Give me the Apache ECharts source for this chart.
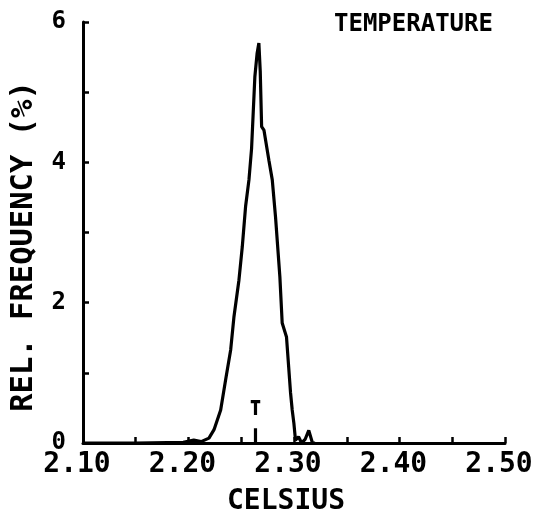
<!DOCTYPE html>
<html>
<head>
<meta charset="utf-8">
<script src="https://cdn.jsdelivr.net/npm/echarts@6/dist/echarts.min.js"></script>
<style>
html,body{margin:0;padding:0;background:#fff;}
#chart{width:539px;height:516px;}
</style>
</head>
<body>
<div id="chart"></div>
<script>
// ---- data ----
const chartTitle = 'TEMPERATURE';
const xAxisName = 'CELSIUS';
const yAxisName = 'REL. FREQUENCY (%)';
const xTickLabels = ['2.10', '2.20', '2.30', '2.40', '2.50'];
const yTickLabels = ['0', '2', '4', '6'];

// temperature (Celsius) and relative frequency (%)
const celsius = [2.10, 2.15, 2.195, 2.205, 2.212, 2.2194, 2.2242, 2.2305, 2.2352, 2.2400, 2.2431,
  2.2478, 2.2510, 2.2541, 2.2573, 2.2598, 2.2629, 2.2650, 2.2667, 2.2680, 2.2693, 2.2715,
  2.2762, 2.2794, 2.2825, 2.2866, 2.2888, 2.2929, 2.2967, 2.2983, 2.2999, 2.3014, 2.3043,
  2.3072, 2.3105, 2.3140, 2.3175, 2.32];
const relFreq = [0, 0, 0.01, 0.04, 0.02, 0.07, 0.19, 0.47, 0.90, 1.33, 1.80,
  2.32, 2.80, 3.37, 3.75, 4.20, 5.22, 5.55, 5.70, 5.30, 4.51, 4.46,
  4.03, 3.75, 3.22, 2.37, 1.71, 1.51, 0.72, 0.47, 0.28, 0.04, 0.09,
  0.0, 0.05, 0.18, 0.0, 0];

// mean marker
const meanTemp = 2.2635;
const meanLower = [0, 0.21];
const meanUpper = [0.40, 0.59];
const meanBarHalfWidth = 0.0045;

const FONT = '"DejaVu Sans Mono", monospace';
const curveData = celsius.map((c, i) => [c, relFreq[i]]);
const markerData = [
  [meanTemp, meanLower[0]], [meanTemp, meanLower[1]], '-',
  [meanTemp, meanUpper[0]], [meanTemp, meanUpper[1]], '-',
  [meanTemp - meanBarHalfWidth, meanUpper[1]], [meanTemp + meanBarHalfWidth, meanUpper[1]]
];

const chart = echarts.init(document.getElementById('chart'));
chart.setOption({
  backgroundColor: '#fff',
  animation: false,
  title: {
    text: chartTitle,
    left: 329, top: 8,
    textStyle: {fontFamily: FONT, fontWeight: 'bold', fontSize: 24, color: '#000'}
  },
  grid: {left: 83, right: 34, top: 22, bottom: 73, containLabel: false, outerBoundsMode: 'none'},
  xAxis: {
    type: 'value', min: 2.10, max: 2.50, interval: 0.05,
    name: xAxisName, nameLocation: 'middle', nameGap: 45,
    nameTextStyle: {fontFamily: FONT, fontWeight: 'bold', fontSize: 28, color: '#000', padding: [0, 16, 0, 0]},
    axisLine: {show: true, lineStyle: {color: '#000', width: 3}},
    axisTick: {show: true, inside: true, length: 6, lineStyle: {color: '#000', width: 2.5}},
    splitLine: {show: false},
    axisLabel: {
      margin: 8, showMinLabel: true, showMaxLabel: true,
      fontFamily: FONT, fontWeight: 'bold', fontSize: 28, color: '#000',
      padding: [0, 12, 0, 0],
      formatter: v => { const s = v.toFixed(2); return xTickLabels.includes(s) ? s : ''; }
    }
  },
  yAxis: {
    type: 'value', min: 0, max: 6, interval: 1,
    name: yAxisName, nameLocation: 'middle', nameGap: 43, nameRotate: 90,
    nameTextStyle: {fontFamily: FONT, fontWeight: 'bold', fontSize: 30.5, color: '#000', padding: [0, 28, 0, 0]},
    axisLine: {show: true, lineStyle: {color: '#000', width: 3}},
    axisTick: {show: true, inside: true, length: 6, lineStyle: {color: '#000', width: 2.5}},
    splitLine: {show: false},
    axisLabel: {
      margin: 17, fontFamily: FONT, fontWeight: 'bold', fontSize: 24, color: '#000',
      formatter: v => { const s = String(Math.round(v)); return yTickLabels.includes(s) ? s : ''; }
    }
  },
  series: [
    {
      type: 'line', data: curveData, showSymbol: false, symbol: 'none',
      lineStyle: {color: '#000', width: 3.2}, z: 3
    },
    {
      type: 'line', data: markerData, showSymbol: false, symbol: 'none', connectNulls: false,
      lineStyle: {color: '#000', width: 3.2}, z: 3
    }
  ]
});
</script>
</body>
</html>
